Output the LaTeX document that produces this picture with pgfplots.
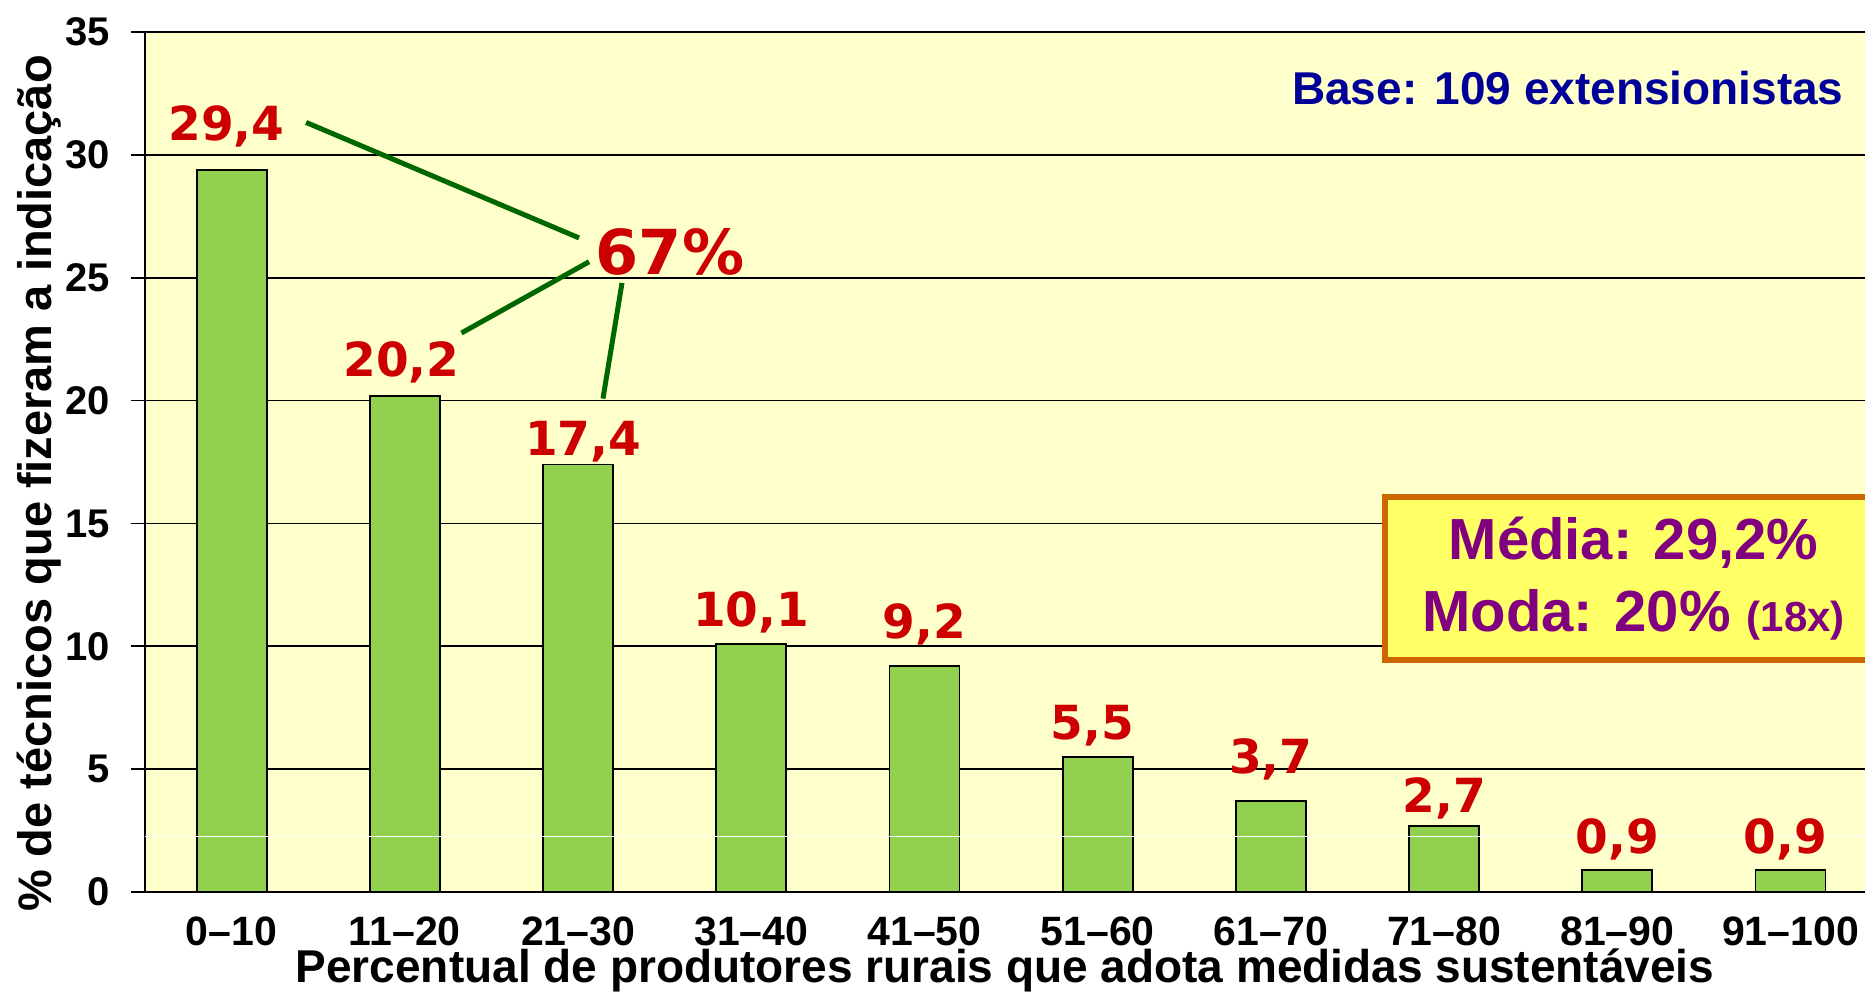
\documentclass[border=0pt]{standalone}
\usepackage{pgfplots}
\pgfplotsset{compat=1.18}
\usepackage{pgfplotstable}
\usepackage{fontspec}
\setmainfont{Liberation Sans}
\newfontfamily\dv{DejaVu Sans}
\definecolor{bgy}{HTML}{FFFFCC}
\definecolor{barg}{HTML}{92D050}
\definecolor{lblred}{HTML}{CC0000}
\definecolor{lngreen}{HTML}{006600}
\definecolor{basebl}{HTML}{000099}
\definecolor{boxfill}{HTML}{FFFF66}
\definecolor{boxdraw}{HTML}{CC6600}
\definecolor{purp}{HTML}{800080}

\pgfplotstableread{
x y
0 29.4
1 20.2
2 17.4
3 10.1
4 9.2
5 5.5
6 3.7
7 2.7
8 0.9
9 0.9
}\bars

\pgfplotstableread{
x ly lab
-0.03 30.59 29,4
0.98 20.96 20,2
2.03 17.76 17,4
3.0 10.79 10,1
4.0 10.31 9,2
4.97 6.20 5,5
6.0 4.84 3,7
7.0 3.24 2,7
8.0 1.55 0,9
8.97 1.55 0,9
}\labels

\begin{document}
\begin{tikzpicture}
\begin{axis}[
  name=ax,
  at={(0,0)}, anchor=south west,
  scale only axis, width=860pt, height=430pt,
  xmin=-0.5, xmax=9.43, ymin=0, ymax=35,
  axis x line*=box, axis y line*=left,
  axis line style={line width=1.3pt, black},
  axis background/.style={fill=bgy},
  ytick={0,5,...,35},
  ymajorgrids, grid style={black, line width=0.9pt},
  y tick style={black, line width=0.9pt},
  tick align=outside, major tick length=7pt,
  xtick={0,...,9}, x tick style={draw=none},
  xticklabels={0–10,11–20,21–30,31–40,41–50,51–60,61–70,71–80,81–90,91–100},
  /pgf/number format/assume math mode=true,
  yticklabel style={font=\bfseries\fontsize{20}{20}\selectfont, inner sep=0pt, anchor=east, xshift=-10.5pt},
  xticklabel style={font=\bfseries\fontsize{20.5}{20.5}\selectfont, inner sep=0pt, anchor=base, yshift=-19.5pt},
  xlabel={Percentual de produtores rurais que adota medidas sustentáveis},
  ylabel={\% de técnicos que fizeram a indicação},
  xlabel style={font=\bfseries\fontsize{23}{23}\selectfont, at={(axis description cs:0.5,-0.1055)}, anchor=base, inner sep=0pt},
  ylabel style={font=\bfseries\fontsize{23.5}{23.5}\selectfont, at={(axis description cs:-0.0614,0.475)}, anchor=center, inner sep=0pt},
]
\addplot[ybar, bar width=35pt, fill=barg, draw=black, line width=0.9pt] table[x=x, y=y] {\bars};
\draw[white, line width=0.6pt] (axis cs:-0.5,2.27) -- (axis cs:9.43,2.27);
\addplot[draw=none, mark=none, point meta=explicit symbolic,
  nodes near coords,
  every node near coord/.append style={anchor=base, inner sep=0pt, text=lblred, font=\dv\bfseries\fontsize{23.5}{23.5}\selectfont}]
  table[x=x, y=ly, meta=lab] {\labels};
\draw[lngreen, line width=2.5pt] (axis cs:0.430,31.32) -- (axis cs:2.006,26.62);
\draw[lngreen, line width=2.5pt] (axis cs:1.327,22.75) -- (axis cs:2.064,25.65);
\draw[lngreen, line width=2.5pt] (axis cs:2.144,20.08) -- (axis cs:2.254,24.79);
\node[text=lblred, font=\dv\bfseries\fontsize{31}{31}\selectfont, inner sep=0pt] at (axis cs:2.531,26.05) {67\%};
\node[anchor=base east, inner sep=0pt, text=basebl, font=\bfseries\fontsize{23}{23}\selectfont] at (axis cs:9.309,32.07) {Base: 109 extensionistas};
\node[draw=boxdraw, line width=3pt, fill=boxfill, minimum width=248.5pt, minimum height=81.5pt, anchor=west, align=center, text=purp, font=\bfseries\fontsize{29}{36}\selectfont, inner sep=0pt] at (axis cs:6.642,12.76) {Média: 29,2\%\\Moda: 20\% {\fontsize{21}{21}\selectfont(18x)}};
\end{axis}
\pgfresetboundingbox
\path[use as bounding box] (ax.south west) ++(-72.5pt,-50.5pt) rectangle ++(932.5pt,496.5pt);
\end{tikzpicture}
\end{document}
